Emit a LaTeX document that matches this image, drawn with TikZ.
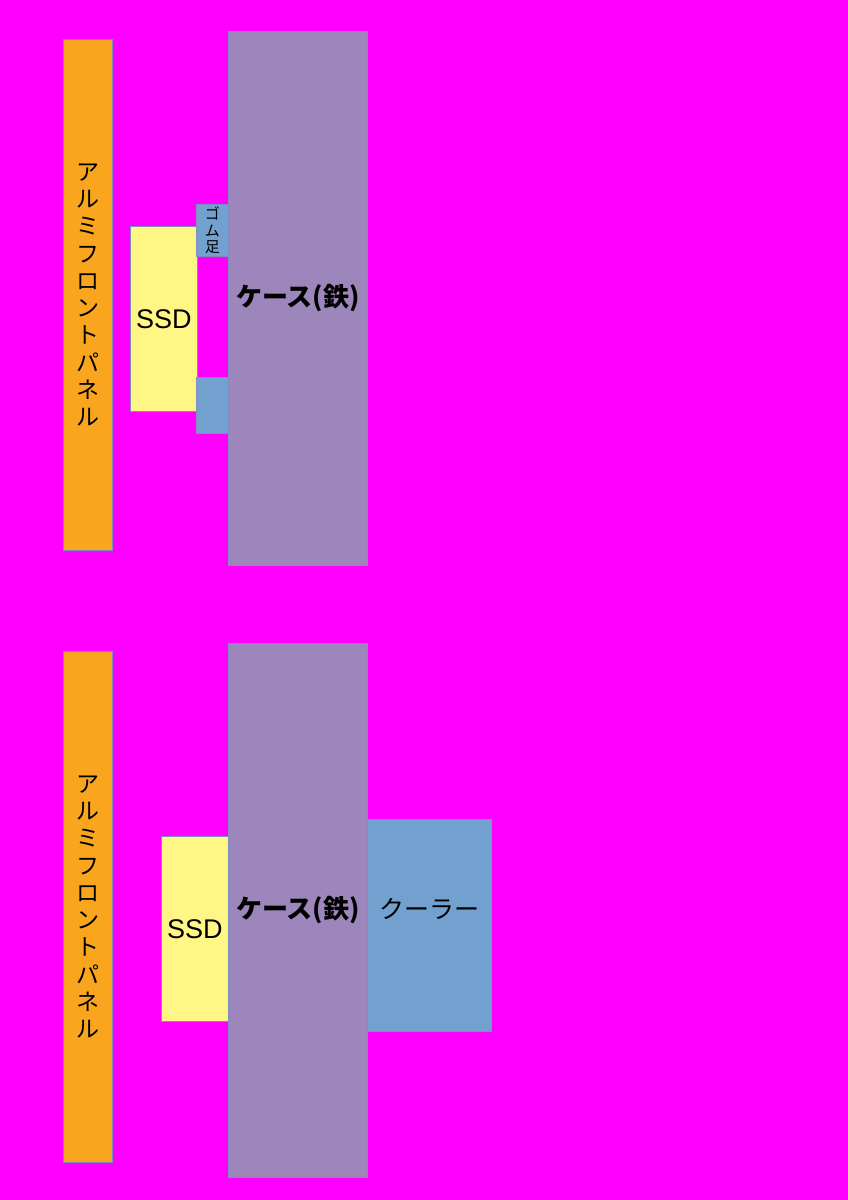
\documentclass[tikz,border=0pt]{standalone}
\usepackage{fontspec}
\setmainfont{Liberation Sans}
\newfontfamily\cjk{Noto Sans CJK JP}
\usetikzlibrary{positioning}

\definecolor{bgpink}{HTML}{FF00FF}
\definecolor{alorange}{HTML}{F9A61E}
\definecolor{caseviolet}{HTML}{9D86BC}
\definecolor{ssdyellow}{HTML}{FFF685}
\definecolor{rubberblue}{HTML}{72A0CF}
\definecolor{edgeblue}{HTML}{7F8CC0}

\begin{document}
\begin{tikzpicture}[x=1pt, y=-1pt,
  box/.style={draw=edgeblue, line width=0.9pt, inner sep=0pt, anchor=north west},
  panel/.style={box, fill=alorange, minimum width=49pt, minimum height=511pt,
    font=\cjk\fontsize{23}{27.3}\selectfont, align=center},
  case/.style={box, fill=caseviolet, minimum width=139pt, minimum height=534pt,
    font=\cjk\bfseries\fontsize{26}{30}\selectfont},
  ssd/.style={box, fill=ssdyellow, minimum width=67pt, minimum height=185pt,
    font=\fontsize{27}{30}\selectfont},
  rubber/.style={box, fill=rubberblue, minimum width=32pt}
]
\fill[bgpink] (0,0) rectangle (848,1200);
\useasboundingbox (0,0) rectangle (848,1200);

% panel and case, once per layout
\foreach \i/\yo in {1/0,2/612} {
 \node[panel] (panel\i) at (63,39+\yo)
   {ア\\ル\\ミ\\フ\\ロ\\ン\\ト\\パ\\ネ\\ル};
 \node[case] (case\i) at (228,31+\yo) {ケース(鉄)};
}

% top: ssd on rubber feet
\node[ssd] (ssd1) at (130,226) {SSD};
\node[rubber, minimum height=52pt, font=\cjk\fontsize{15}{16.5}\selectfont, align=center]
  (rubber1) at (196,204) {ゴ\\ム\\足};
\node[rubber, minimum height=56pt] (rubber2) at (196,377) {};

% bottom: ssd on case, cooler behind
\node[ssd] (ssd2) at (161,836) {SSD};
\node[box, fill=rubberblue, minimum width=124pt, minimum height=212pt] (cooler) at (367,819) {};
\node[font=\cjk\fontsize{25}{28}\selectfont] (coolerlabel) at ([yshift=16pt]cooler.center) {クーラー};
\end{tikzpicture}
\end{document}
